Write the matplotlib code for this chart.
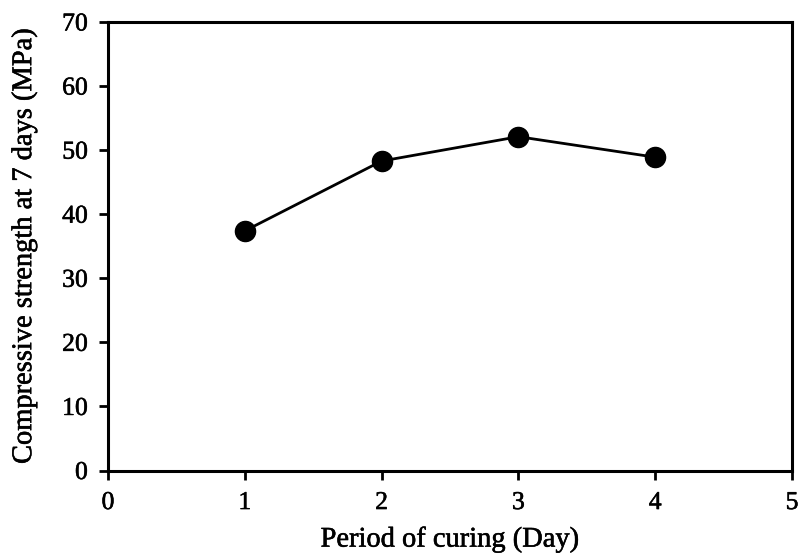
import matplotlib
matplotlib.use('Agg')
import matplotlib.pyplot as plt
import matplotlib.patheffects as pe

days = [1, 2, 3, 4]
strength = [37.4, 48.3, 52.1, 48.9]

plt.rcParams['font.family'] = ['Liberation Serif', 'DejaVu Serif']

fig = plt.figure(figsize=(8.01, 5.56), dpi=100)
ax = fig.add_axes([108 / 801, 1 - 470.5 / 556, (792 - 108) / 801, (470.5 - 22) / 556])

ax.plot(days, strength, color='black', linewidth=2, marker='o', markersize=14.5)

ax.set_xlim(0, 5)
ax.set_ylim(0, 70)
ax.set_xticks(range(0, 6))
ax.set_yticks(range(0, 71, 10))
for side in ax.spines.values():
    side.set_linewidth(2.2)
ax.tick_params(direction='out', length=6.5, width=2, labelsize=18.5)
ax.tick_params(axis='x', pad=9)
ax.tick_params(axis='y', pad=8)

# slightly heavier strokes on all text
thick = [pe.withStroke(linewidth=0.4, foreground='black')]
xl = ax.set_xlabel('Period of curing (Day)', fontsize=20.5, va='center')
yl = ax.set_ylabel('Compressive strength at 7 days (MPa)', fontsize=20.5, va='center')
ax.xaxis.set_label_coords(0.5, -0.155)
ax.yaxis.set_label_coords(-0.122, 0.5)
for t in [xl, yl] + ax.get_xticklabels() + ax.get_yticklabels():
    t.set_path_effects(thick)

fig.savefig('out.png', dpi=100)
